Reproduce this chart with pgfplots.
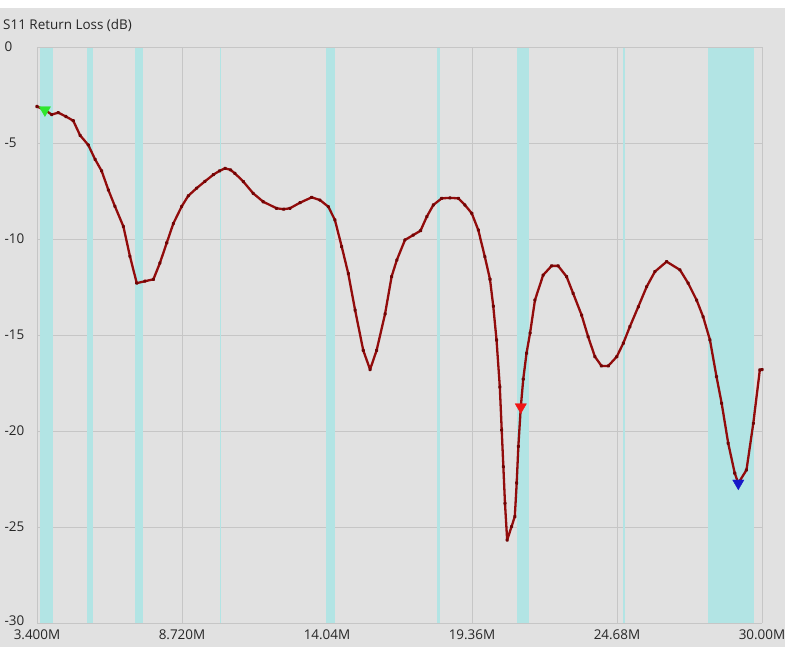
\documentclass[border=0pt]{standalone}
\usepackage{pgfplots}
\usepackage{pgfplotstable}
\pgfplotsset{compat=1.18}
\usepackage{fontspec}
\setmainfont{Open Sans}

\definecolor{panel}{HTML}{E1E1E1}
\definecolor{gridc}{HTML}{C6C6C6}
\definecolor{band}{HTML}{B2E4E4}
\definecolor{trace}{HTML}{920C0C}
\definecolor{tracedot}{HTML}{700505}
\definecolor{mkgreen}{HTML}{2EE62E}
\definecolor{mkred}{HTML}{F01616}
\definecolor{mkblue}{HTML}{1818C8}

% S11 sweep, frequency in MHz, return loss in dB
\pgfplotstableread{
f s11
3.40 -3.10
3.69 -3.28
3.94 -3.52
4.18 -3.42
4.46 -3.62
4.73 -3.84
4.98 -4.60
5.28 -5.10
5.53 -5.85
5.77 -6.45
6.02 -7.45
6.26 -8.30
6.57 -9.35
6.81 -10.90
7.06 -12.30
7.36 -12.20
7.67 -12.10
7.91 -11.25
8.16 -10.20
8.40 -9.20
8.71 -8.30
8.95 -7.75
9.26 -7.35
9.56 -7.00
9.87 -6.65
10.10 -6.45
10.30 -6.32
10.50 -6.40
10.66 -6.58
10.97 -7.01
11.33 -7.62
11.70 -8.06
12.19 -8.40
12.45 -8.45
12.68 -8.40
13.05 -8.11
13.48 -7.83
13.78 -7.97
14.09 -8.32
14.33 -9.01
14.58 -10.40
14.82 -11.80
15.07 -13.70
15.37 -15.80
15.62 -16.80
15.86 -15.80
16.17 -13.90
16.41 -11.96
16.60 -11.10
16.90 -10.05
17.20 -9.80
17.47 -9.57
17.70 -8.84
17.94 -8.23
18.25 -7.88
18.55 -7.86
18.86 -7.88
19.10 -8.23
19.35 -8.66
19.59 -9.53
19.83 -10.92
20.02 -12.10
20.14 -13.50
20.26 -15.26
20.38 -17.70
20.45 -19.95
20.51 -21.86
20.57 -23.77
20.65 -25.68
20.81 -24.98
20.93 -24.46
21.00 -22.70
21.06 -20.80
21.15 -18.75
21.24 -17.30
21.36 -15.95
21.49 -14.90
21.67 -13.18
21.97 -11.88
22.28 -11.40
22.52 -11.40
22.83 -11.96
23.07 -12.83
23.38 -13.96
23.62 -15.09
23.87 -16.13
24.11 -16.61
24.36 -16.61
24.67 -16.13
24.91 -15.43
25.15 -14.57
25.46 -13.53
25.77 -12.48
26.07 -11.70
26.50 -11.18
26.99 -11.61
27.29 -12.30
27.60 -13.18
27.84 -14.05
28.09 -15.26
28.33 -17.17
28.52 -18.56
28.76 -20.64
29.00 -22.20
29.13 -22.72
29.43 -22.03
29.68 -19.60
29.92 -16.82
30.00 -16.80
}\sweep

\begin{document}
\begin{tikzpicture}[x=1bp,y=1bp]
% page and instrument panel
\fill[white] (0,0) rectangle (795,650);
\fill[panel] (0,3) rectangle (785,642);
\node[anchor=west, font=\fontsize{13.5}{15}\selectfont, text=black!85, inner sep=0pt]
  at (3,625) {S11 Return Loss (dB)};

\begin{axis}[
  at={(37bp,27bp)}, anchor=south west,
  scale only axis, width=725bp, height=576bp,
  xmin=3.4, xmax=30, ymin=-30, ymax=0,
  xtick={3.4,8.72,14.04,19.36,24.68,30},
  xticklabels={3.400M,8.720M,14.04M,19.36M,24.68M,30.00M},
  ytick={-30,-25,-20,-15,-10,-5,0},
  yticklabels={\raisebox{4bp}{-30},-25,-20,-15,-10,-5,0},
  major tick length=0pt,
  grid=major,
  major grid style={draw=gridc, line width=0.9bp},
  axis line style={draw=gridc, line width=0.9bp},
  axis x line*=bottom, axis y line*=left,
  tick label style={font=\fontsize{13.5}{15}\selectfont, text=black!85},
  xticklabel style={yshift=-3bp},
  yticklabel style={anchor=west, xshift=-36bp},
  clip=false,
]
% amateur bands
\addplot[fill=band, draw=none] coordinates {(3.5,-30) (3.5,0) (4.0,0) (4.0,-30)} -- cycle;
\addplot[fill=band, draw=none] coordinates {(5.25,-30) (5.25,0) (5.45,0) (5.45,-30)} -- cycle;
\addplot[fill=band, draw=none] coordinates {(7.0,-30) (7.0,0) (7.3,0) (7.3,-30)} -- cycle;
\addplot[fill=band, draw=none] coordinates {(10.1,-30) (10.1,0) (10.15,0) (10.15,-30)} -- cycle;
\addplot[fill=band, draw=none] coordinates {(14.0,-30) (14.0,0) (14.35,0) (14.35,-30)} -- cycle;
\addplot[fill=band, draw=none] coordinates {(18.068,-30) (18.068,0) (18.168,0) (18.168,-30)} -- cycle;
\addplot[fill=band, draw=none] coordinates {(21.0,-30) (21.0,0) (21.45,0) (21.45,-30)} -- cycle;
\addplot[fill=band, draw=none] coordinates {(24.89,-30) (24.89,0) (24.99,0) (24.99,-30)} -- cycle;
\addplot[fill=band, draw=none] coordinates {(28.0,-30) (28.0,0) (29.7,0) (29.7,-30)} -- cycle;
% plot frame, top and right
\addplot[draw=gridc, line width=0.9bp] coordinates {(3.4,0) (30,0) (30,-30)};
% return-loss trace
\addplot[trace, line width=2.3bp, line join=round, mark=*, mark size=0.7bp,
  mark options={fill=tracedot, draw=tracedot}] table[x=f, y=s11] {\sweep};
% markers
\addplot[only marks, mark=triangle*, mark size=6.5bp, mark options={rotate=180, fill=mkgreen, draw=mkgreen}]
  coordinates {(3.69,-3.28)};
\addplot[only marks, mark=triangle*, mark size=6.5bp, mark options={rotate=180, fill=mkred, draw=mkred}]
  coordinates {(21.15,-18.75)};
\addplot[only marks, mark=triangle*, mark size=6.5bp, mark options={rotate=180, fill=mkblue, draw=mkblue}]
  coordinates {(29.13,-22.72)};
\end{axis}
\end{tikzpicture}
\end{document}
